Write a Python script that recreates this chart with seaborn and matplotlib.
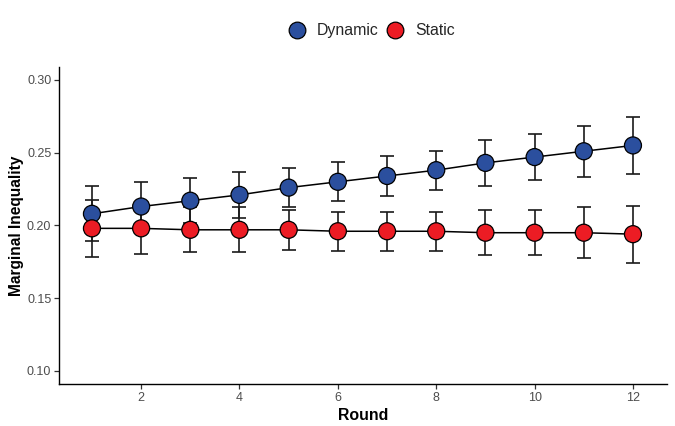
import matplotlib
matplotlib.use("Agg")
import matplotlib.pyplot as plt
import numpy as np
import pandas as pd
import seaborn as sns
from matplotlib.lines import Line2D

rounds = list(range(1, 13))
dynamic = [0.208, 0.213, 0.217, 0.221, 0.226, 0.230, 0.234, 0.238, 0.243, 0.247, 0.251, 0.255]
dynamic_err = [0.019, 0.017, 0.0156, 0.0156, 0.0135, 0.0135, 0.0137, 0.0135, 0.0156, 0.0156, 0.0177, 0.0195]
static = [0.198, 0.198, 0.197, 0.197, 0.197, 0.196, 0.196, 0.196, 0.195, 0.195, 0.195, 0.194]
static_err = [0.0195, 0.0173, 0.0156, 0.0156, 0.0136, 0.0135, 0.0135, 0.0135, 0.0155, 0.0155, 0.0175, 0.0195]

conditions = ["Dynamic", "Static"]
colors = {"Dynamic": "#2B4F9E", "Static": "#EC1C24"}

df = pd.concat([
    pd.DataFrame({"Round": rounds, "value": dynamic, "se": dynamic_err, "condition": "Dynamic"}),
    pd.DataFrame({"Round": rounds, "value": static, "se": static_err, "condition": "Static"}),
], ignore_index=True)

sns.set_theme(style="ticks")
plt.rcParams["font.family"] = ["Liberation Sans", "DejaVu Sans"]

fig = plt.figure(figsize=(6.75, 4.26), dpi=100)
ax = fig.add_axes([0.0874, 0.0986, 0.9006, 0.7444])

# error bars first, behind everything
for cond in conditions:
    sub = df[df["condition"] == cond]
    ax.errorbar(sub["Round"], sub["value"], yerr=sub["se"], fmt="none",
                ecolor="#1a1a1a", elinewidth=1.2, capsize=5, capthick=1.2, zorder=1)

# connecting lines
sns.lineplot(data=df, x="Round", y="value", units="condition", estimator=None,
             color="black", linewidth=1.1, ax=ax, zorder=2, legend=False)

# points
sns.scatterplot(data=df, x="Round", y="value", hue="condition", palette=colors,
                s=150, edgecolor="black", linewidth=0.9, ax=ax, zorder=3, legend=False)

ax.set_xlim(0.33, 12.69)
ax.set_ylim(0.091, 0.309)
ax.set_xticks([2, 4, 6, 8, 10, 12])
ax.set_yticks([0.10, 0.15, 0.20, 0.25, 0.30])
ax.set_yticklabels(["0.10", "0.15", "0.20", "0.25", "0.30"])
ax.tick_params(axis="both", labelsize=9, colors="#333333", labelcolor="#4D4D4D",
               length=3.5, width=0.9, pad=2)
for side in ["top", "right"]:
    ax.spines[side].set_visible(False)
for side in ["left", "bottom"]:
    ax.spines[side].set_color("black")
    ax.spines[side].set_linewidth(1.0)

ax.set_xlabel("Round", fontsize=11.4, fontweight="bold", labelpad=3, color="black")
ax.set_ylabel("Marginal Inequality", fontsize=11.2, fontweight="bold", color="black")
ax.yaxis.set_label_coords(-0.058, 0.5)

handles = [Line2D([], [], marker="o", linestyle="none", markersize=12,
                  markerfacecolor=colors[c], markeredgecolor="black", markeredgewidth=0.9)
           for c in conditions]
fig.legend(handles, conditions, loc="center", bbox_to_anchor=(0.545, 0.928), ncol=2,
           frameon=False, fontsize=11.4, handletextpad=0.27, columnspacing=0.05)

fig.savefig("out.png", dpi=100)
